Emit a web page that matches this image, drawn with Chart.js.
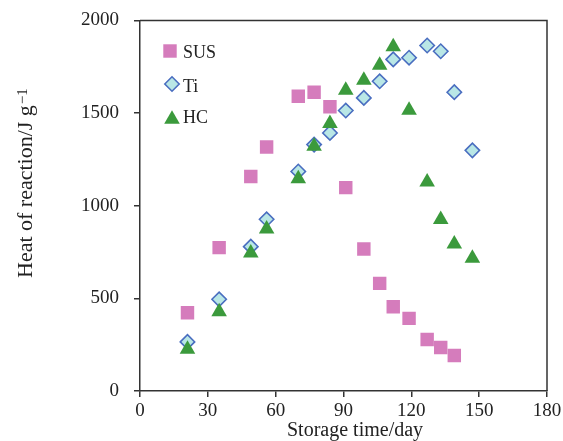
<!DOCTYPE html>
<html><head><meta charset="utf-8">
<script src="https://cdn.jsdelivr.net/npm/chart.js@4/dist/chart.umd.min.js"></script>
<style>html,body{margin:0;padding:0;background:#fff;}#wrap{width:563px;height:441px;}</style>
</head><body><div id="wrap"><canvas id="c" width="563" height="441"></canvas></div>
<script>
// ---- data ----
const seriesNames = ['SUS', 'Ti', 'HC'];
const susDays = [21, 35, 49, 56, 70, 77, 84, 91, 99, 106, 112, 119, 127, 133, 139];
const susHeat = [422, 774, 1158, 1317, 1591, 1613, 1534, 1098, 767, 581, 455, 392, 278, 235, 192];
const tiDays = [21, 35, 49, 56, 70, 77, 84, 91, 99, 106, 112, 119, 127, 133, 139, 147];
const tiHeat = [265, 495, 779, 927, 1185, 1330, 1393, 1514, 1582, 1672, 1790, 1799, 1865, 1834, 1613, 1299];
const hcDays = [21, 35, 49, 56, 70, 77, 84, 91, 99, 106, 112, 119, 127, 133, 139, 147];
const hcHeat = [226, 428, 745, 875, 1146, 1321, 1444, 1624, 1678, 1759, 1858, 1516, 1128, 926, 794, 717];
const xTickValues = [0, 30, 60, 90, 120, 150, 180];
const yTickValues = [0, 500, 1000, 1500, 2000];
const xTitle = 'Storage time/day';
const yTitle = 'Heat of reaction/J g';
const yTitleSup = '\u22121';

const toPts = (xs, ys) => xs.map((x, i) => ({x: x, y: ys[i]}));
const SERIF = '"Liberation Serif", "Times New Roman", serif';
const AXIS = '#333333';
const TXT = '#222222';

const styles = [
  {pointStyle: 'rect', radius: 9.5, bg: '#d57cbc', border: '#d57cbc', bw: 0},
  {pointStyle: 'rectRot', radius: 7.2, bg: '#b9e7e6', border: '#4a6ec0', bw: 1.6},
  {pointStyle: 'triangle', radius: 9, bg: '#3b9a3c', border: '#3b9a3c', bw: 0}
];
const seriesData = [toPts(susDays, susHeat), toPts(tiDays, tiHeat), toPts(hcDays, hcHeat)];

function drawMarker(ctx, st, x, y) {
  ctx.save();
  ctx.fillStyle = st.bg; ctx.strokeStyle = st.border; ctx.lineWidth = st.bw;
  ctx.beginPath();
  const r = st.radius;
  if (st.pointStyle === 'rect') {
    const s = r * Math.SQRT1_2; ctx.rect(x - s, y - s, 2 * s, 2 * s);
  } else if (st.pointStyle === 'rectRot') {
    ctx.moveTo(x - r, y); ctx.lineTo(x, y - r); ctx.lineTo(x + r, y); ctx.lineTo(x, y + r); ctx.closePath();
  } else {
    const w = r * Math.sin(2 * Math.PI / 3);
    ctx.moveTo(x, y - r); ctx.lineTo(x + w, y + r / 2); ctx.lineTo(x - w, y + r / 2); ctx.closePath();
  }
  ctx.fill();
  if (st.bw > 0) ctx.stroke();
  ctx.restore();
}

const decorPlugin = {
  id: 'decor',
  afterDraw(chart) {
    const ctx = chart.ctx, a = chart.chartArea;
    ctx.save();
    // frame top/right
    ctx.strokeStyle = AXIS; ctx.lineWidth = 1.5;
    ctx.beginPath();
    ctx.moveTo(a.left, a.top); ctx.lineTo(a.right, a.top); ctx.lineTo(a.right, a.bottom);
    ctx.stroke();
    // legend
    const legendY = [51, 84, 117];
    const textY = [58, 92, 123];
    ctx.font = '18px ' + SERIF; ctx.fillStyle = TXT; ctx.textBaseline = 'alphabetic'; ctx.textAlign = 'left';
    seriesNames.forEach((n, i) => {
      let cy = legendY[i];
      if (styles[i].pointStyle === 'triangle') cy += styles[i].radius / 4;
      drawMarker(ctx, styles[i], i === 0 ? 170 : 172, cy);
      ctx.fillStyle = TXT;
      ctx.fillText(n, 183, textY[i]);
    });
    // x title
    ctx.font = '20px ' + SERIF; ctx.fillStyle = TXT;
    ctx.fillText(xTitle, 287, 436);
    // y title
    ctx.translate(32, 278); ctx.rotate(-Math.PI / 2);
    ctx.font = '22px ' + SERIF;
    ctx.fillText(yTitle, 0, 0);
    const w = ctx.measureText(yTitle).width;
    ctx.font = '15px ' + SERIF;
    ctx.fillText(yTitleSup, w + 1, -5);
    ctx.restore();
  }
};

new Chart(document.getElementById('c'), {
  type: 'scatter',
  data: {
    datasets: seriesNames.map((n, i) => ({
      label: n,
      data: seriesData[i],
      pointStyle: styles[i].pointStyle,
      pointRadius: styles[i].radius,
      pointHoverRadius: styles[i].radius,
      backgroundColor: styles[i].bg,
      borderColor: styles[i].border,
      borderWidth: styles[i].bw,
      order: 2 - i
    }))
  },
  options: {
    responsive: false,
    animation: false,
    devicePixelRatio: 1,
    events: [],
    layout: {padding: {top: 20.5, right: 16, left: 0, bottom: 0}},
    plugins: {legend: {display: false}, tooltip: {enabled: false}},
    scales: {
      x: {
        type: 'linear', min: 0, max: 180,
        afterBuildTicks: s => { s.ticks = xTickValues.map(v => ({value: v})); },
        afterFit: s => { s.height = 50; s.paddingLeft = 0; s.paddingRight = 0; },
        grid: {drawOnChartArea: false, drawTicks: true, tickLength: 6, color: AXIS, lineWidth: 1.5},
        border: {display: true, color: AXIS, width: 1.5},
        ticks: {font: {family: SERIF, size: 19}, color: TXT, padding: 3, maxRotation: 0, callback: v => String(v)}
      },
      y: {
        type: 'linear', min: 0, max: 2000,
        afterBuildTicks: s => { s.ticks = yTickValues.map(v => ({value: v})); },
        afterFit: s => { s.width = 140; s.paddingTop = 0; s.paddingBottom = 0; },
        grid: {drawOnChartArea: false, drawTicks: true, tickLength: 6, color: AXIS, lineWidth: 1.5},
        border: {display: true, color: AXIS, width: 1.5},
        ticks: {font: {family: SERIF, size: 19}, color: TXT, padding: 15, callback: v => String(v)}
      }
    }
  },
  plugins: [decorPlugin]
});
</script>
</body></html>
